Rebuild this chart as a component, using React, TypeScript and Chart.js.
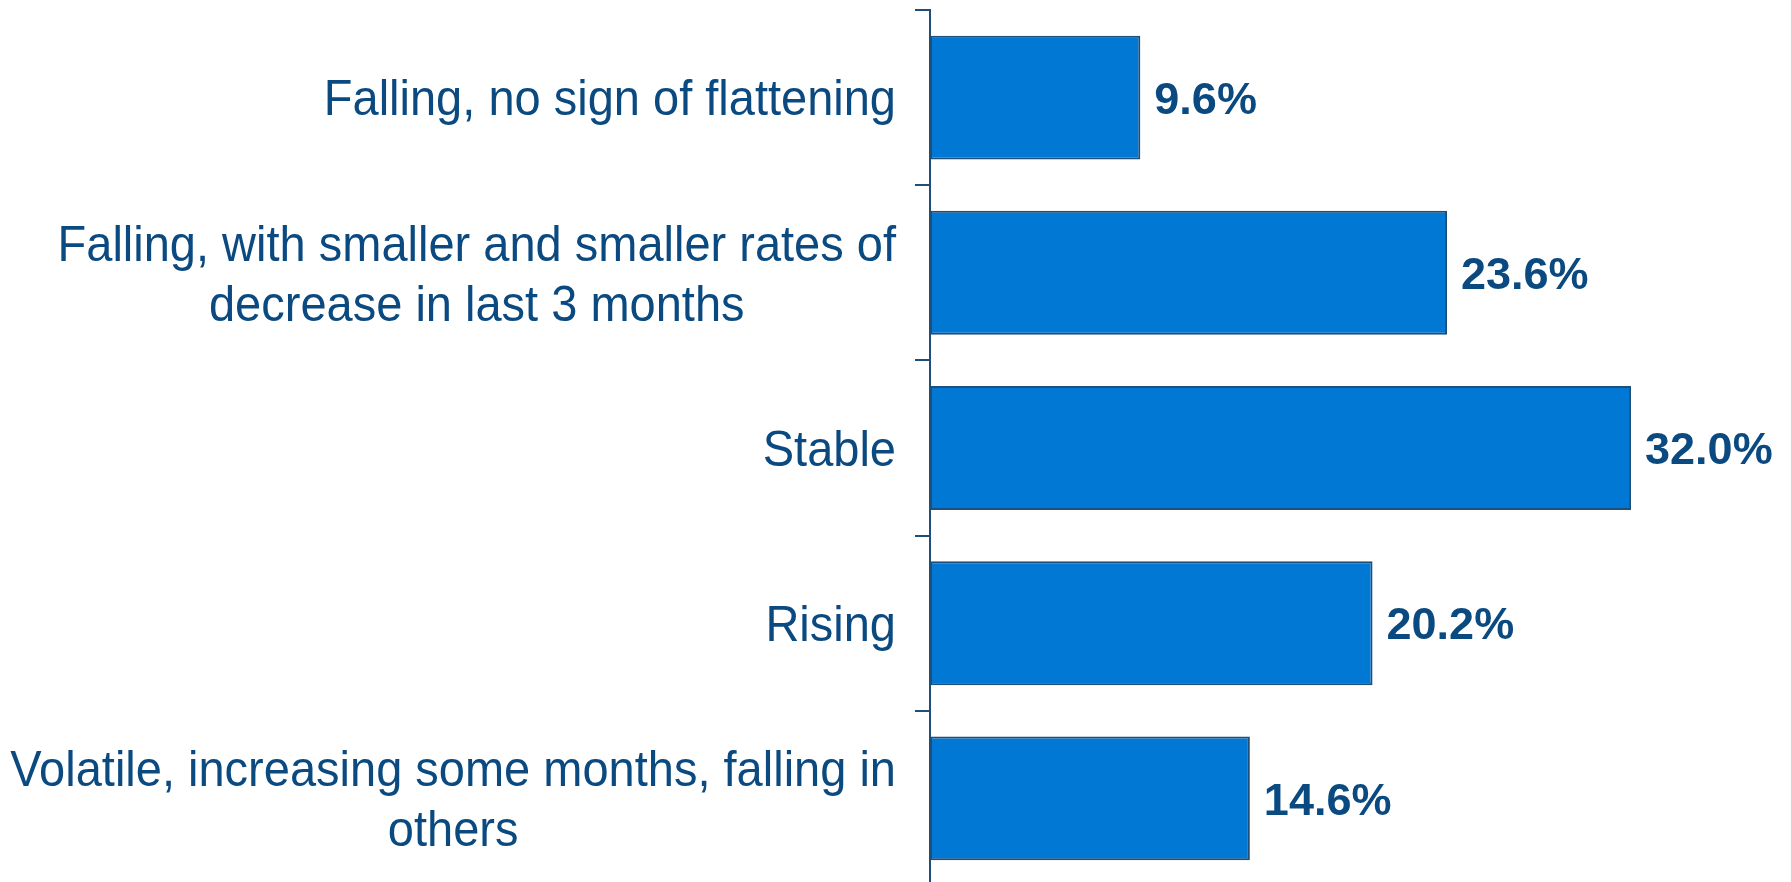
import React, { useEffect, useRef } from "react";
import { Chart, registerables } from "chart.js";

Chart.register(...registerables);

const categories: string[][] = [
  ["Falling, no sign of flattening"],
  ["Falling, with smaller and smaller rates of", "decrease in last 3 months"],
  ["Stable"],
  ["Rising"],
  ["Volatile, increasing some months, falling in", "others"],
];

const values: number[] = [9.6, 23.6, 32.0, 20.2, 14.6];

const X_MAX = 39.3;

const TEXT_COLOR = "#0b4a80";
const AXIS_COLOR = "#1f4e79";
const BAR_COLOR = "#0078d4";
const BAR_BORDER = "#1f4e79";
const FONT_FAMILY = '"Liberation Sans", Arial, Helvetica, sans-serif';

const LABEL_SIZE = 47;
const LABEL_VSCALE = 1.055;
const VALUE_SIZE = 45;

const labelPlugin = {
  id: "customLabels",
  afterDatasetsDraw(chart: any) {
    const ctx = chart.ctx as CanvasRenderingContext2D;
    const yScale = chart.scales.y;
    const meta = chart.getDatasetMeta(0);
    const labelRight = chart.chartArea.left - 34;
    const lineH = 60;
    const capHalf = (0.716 * LABEL_SIZE * LABEL_VSCALE) / 2;
    ctx.save();
    ctx.fillStyle = TEXT_COLOR;
    ctx.textBaseline = "alphabetic";
    ctx.font = `${LABEL_SIZE}px ${FONT_FAMILY}`;
    categories.forEach((lines, i) => {
      const yc = yScale.getPixelForValue(i);
      const maxW = Math.max(...lines.map((l) => ctx.measureText(l).width));
      const cx = labelRight - maxW / 2;
      ctx.textAlign = "center";
      lines.forEach((l, j) => {
        const y = yc + (j - (lines.length - 1) / 2) * lineH + capHalf;
        ctx.save();
        ctx.translate(cx, y);
        ctx.scale(1, LABEL_VSCALE);
        ctx.fillText(l, 0, 0);
        ctx.restore();
      });
    });
    ctx.font = `bold ${VALUE_SIZE}px ${FONT_FAMILY}`;
    ctx.textAlign = "left";
    meta.data.forEach((bar: any, i: number) => {
      ctx.fillText(
        values[i].toFixed(1) + "%",
        bar.x + 14,
        bar.y + (0.716 * VALUE_SIZE) / 2
      );
    });
    ctx.restore();
  },
};

export default function App() {
  const canvasRef = useRef<HTMLCanvasElement | null>(null);

  useEffect(() => {
    document.body.style.overflow = "hidden";
    const canvas = canvasRef.current;
    if (!canvas) return;
    const chart = new Chart(canvas, {
      type: "bar",
      data: {
        labels: categories,
        datasets: [
          {
            data: values,
            backgroundColor: BAR_COLOR,
            borderColor: BAR_BORDER,
            borderWidth: 2,
            borderSkipped: false,
            categoryPercentage: 1,
            barPercentage: 0.707,
          },
        ],
      },
      options: {
        indexAxis: "y",
        animation: false,
        responsive: true,
        maintainAspectRatio: false,
        layout: { padding: { top: 10, left: 0, right: 0, bottom: 0 } },
        plugins: {
          legend: { display: false },
          tooltip: { enabled: false },
          title: { display: false },
        },
        scales: {
          x: {
            display: false,
            min: 0,
            max: X_MAX,
          },
          y: {
            type: "category",
            offset: true,
            grid: {
              display: true,
              offset: true,
              drawOnChartArea: false,
              drawTicks: true,
              tickLength: 15,
              color: AXIS_COLOR,
              lineWidth: 2,
            },
            border: { display: true, color: AXIS_COLOR, width: 2 },
            ticks: { display: false },
            afterFit: (s: any) => {
              s.width = 930;
            },
          },
        },
      },
      plugins: [labelPlugin],
    } as any);
    return () => chart.destroy();
  }, []);

  return (
    <div
      style={{
        position: "fixed",
        left: 0,
        top: 0,
        width: "1791px",
        height: "886px",
        background: "#ffffff",
      }}
    >
      <canvas ref={canvasRef} />
    </div>
  );
}
